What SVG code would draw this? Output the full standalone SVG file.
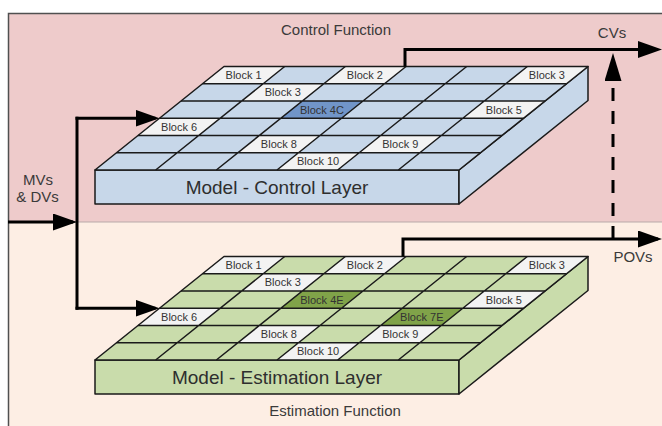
<svg xmlns="http://www.w3.org/2000/svg" width="662" height="426" viewBox="0 0 662 426">
<style>
.lbl{font-family:"Liberation Sans",Arial,sans-serif;font-size:15px;fill:#3a3a3a;text-anchor:middle}
.blk{font-family:"Liberation Sans",Arial,sans-serif;font-size:11px;fill:#333;text-anchor:middle}
.big{font-family:"Liberation Sans",Arial,sans-serif;font-size:19px;fill:#2e2e2e;text-anchor:middle}
.grid{stroke:#1a1a1a;stroke-width:1.5;fill:none}
.edge{stroke:#1a1a1a;stroke-width:1.5;stroke-linejoin:round}
.white{fill:#f3f3f3}
.blue{fill:#c7d7e9}
.blueD{fill:#7195c8}
.green{fill:#c9dcab}
.greenD{fill:#80a349}
.conn{stroke:#000;stroke-width:3;fill:none}
</style>
<defs>
<marker id="ah" markerUnits="userSpaceOnUse" markerWidth="24" markerHeight="17" refX="20" refY="8.5" orient="auto" viewBox="0 0 24 17">
<path d="M0,0 L24,8.5 L0,17 z" fill="#000"/>
</marker>
<marker id="ahUp" markerUnits="userSpaceOnUse" markerWidth="28" markerHeight="17" refX="24" refY="8.5" orient="auto" viewBox="0 0 28 17">
<path d="M0,0 L28,8.5 L0,17 z" fill="#000"/>
</marker>
</defs>

<g id="background">
<rect x="8" y="13" width="654" height="209" fill="#eecbcb"/>
<rect x="8" y="222" width="654" height="204" fill="#fdeee4"/>
<line x1="8" y1="222" x2="662" y2="222" stroke="#b9a9a9" stroke-width="1"/>
<path d="M8.5,426 V13.5 H662" fill="none" stroke="#505050" stroke-width="1.5"/>
<text class="lbl" x="336" y="35">Control Function</text>
<text class="lbl" x="335" y="416">Estimation Function</text>
</g>

<g id="control-layer">
<polygon class="blue edge" points="95,170 459,170 459,204 95,204"/>
<polygon class="blue edge" points="459,170 588,66.5 588,100.5 459,204"/>
<polygon class="blue" points="224,66.5 588,66.5 459,170 95,170"/>
<polygon class="white" points="224,66.5 284.67,66.5 263.17,83.75 202.5,83.75"/>
<polygon class="white" points="345.33,66.5 406,66.5 384.5,83.75 323.83,83.75"/>
<polygon class="white" points="527.33,66.5 588,66.5 566.5,83.75 505.83,83.75"/>
<polygon class="white" points="263.17,83.75 323.83,83.75 302.33,101 241.67,101"/>
<polygon class="blueD" points="302.33,101 363,101 341.5,118.25 280.83,118.25"/>
<polygon class="white" points="484.33,101 545,101 523.5,118.25 462.83,118.25"/>
<polygon class="white" points="159.5,118.25 220.17,118.25 198.67,135.5 138,135.5"/>
<polygon class="white" points="259.33,135.5 320,135.5 298.5,152.75 237.83,152.75"/>
<polygon class="white" points="380.67,135.5 441.33,135.5 419.83,152.75 359.17,152.75"/>
<polygon class="white" points="298.5,152.75 359.17,152.75 337.67,170 277,170"/>
<path class="grid" d="M202.5,83.75H566.5M181,101H545M159.5,118.25H523.5M138,135.5H502M116.5,152.75H480.5M284.67,66.5L155.67,170M345.33,66.5L216.33,170M406,66.5L277,170M466.67,66.5L337.67,170M527.33,66.5L398.33,170"/>
<polygon class="edge" fill="none" points="224,66.5 588,66.5 459,170 95,170"/>
<text class="blk" x="243.6" y="79">Block 1</text>
<text class="blk" x="364.9" y="79">Block 2</text>
<text class="blk" x="546.9" y="79">Block 3</text>
<text class="blk" x="282.8" y="96.3">Block 3</text>
<text class="blk" x="321.9" y="113.5">Block 4C</text>
<text class="blk" x="503.9" y="113.5">Block 5</text>
<text class="blk" x="179.1" y="130.8">Block 6</text>
<text class="blk" x="278.9" y="148">Block 8</text>
<text class="blk" x="400.3" y="148">Block 9</text>
<text class="blk" x="318.1" y="165.3">Block 10</text>
<text class="big" x="277" y="194">Model - Control Layer</text>
</g>

<g id="estimation-layer" transform="translate(0,190)">
<polygon class="green edge" points="95,170 459,170 459,204 95,204"/>
<polygon class="green edge" points="459,170 588,66.5 588,100.5 459,204"/>
<polygon class="green" points="224,66.5 588,66.5 459,170 95,170"/>
<polygon class="white" points="224,66.5 284.67,66.5 263.17,83.75 202.5,83.75"/>
<polygon class="white" points="345.33,66.5 406,66.5 384.5,83.75 323.83,83.75"/>
<polygon class="white" points="527.33,66.5 588,66.5 566.5,83.75 505.83,83.75"/>
<polygon class="white" points="263.17,83.75 323.83,83.75 302.33,101 241.67,101"/>
<polygon class="greenD" points="302.33,101 363,101 341.5,118.25 280.83,118.25"/>
<polygon class="white" points="484.33,101 545,101 523.5,118.25 462.83,118.25"/>
<polygon class="white" points="159.5,118.25 220.17,118.25 198.67,135.5 138,135.5"/>
<polygon class="greenD" points="402.17,118.25 462.83,118.25 441.33,135.5 380.67,135.5"/>
<polygon class="white" points="259.33,135.5 320,135.5 298.5,152.75 237.83,152.75"/>
<polygon class="white" points="380.67,135.5 441.33,135.5 419.83,152.75 359.17,152.75"/>
<polygon class="white" points="298.5,152.75 359.17,152.75 337.67,170 277,170"/>
<path class="grid" d="M202.5,83.75H566.5M181,101H545M159.5,118.25H523.5M138,135.5H502M116.5,152.75H480.5M284.67,66.5L155.67,170M345.33,66.5L216.33,170M406,66.5L277,170M466.67,66.5L337.67,170M527.33,66.5L398.33,170"/>
<polygon class="edge" fill="none" points="224,66.5 588,66.5 459,170 95,170"/>
<text class="blk" x="243.6" y="79">Block 1</text>
<text class="blk" x="364.9" y="79">Block 2</text>
<text class="blk" x="546.9" y="79">Block 3</text>
<text class="blk" x="282.8" y="96.3">Block 3</text>
<text class="blk" x="321.9" y="113.5">Block 4E</text>
<text class="blk" x="503.9" y="113.5">Block 5</text>
<text class="blk" x="179.1" y="130.8">Block 6</text>
<text class="blk" x="421.8" y="130.8">Block 7E</text>
<text class="blk" x="278.9" y="148">Block 8</text>
<text class="blk" x="400.3" y="148">Block 9</text>
<text class="blk" x="318.1" y="165.3">Block 10</text>
<text class="big" x="277" y="194">Model - Estimation Layer</text>
</g>

<g id="connectors">
<path class="conn" d="M8,222 H73" marker-end="url(#ah)"/>
<path class="conn" d="M77,116.75 V309.75"/>
<path class="conn" d="M75.5,118.25 H155.5" marker-end="url(#ah)"/>
<path class="conn" d="M75.5,308.25 H155.5" marker-end="url(#ah)"/>
<path class="conn" d="M405,66.5 V49.5 H658" marker-end="url(#ah)"/>
<path class="conn" d="M403,256.5 V239 H658" marker-end="url(#ah)"/>
<path class="conn" d="M613,239 V57" stroke-dasharray="13 10" marker-end="url(#ahUp)"/>
</g>

<g id="io-labels">
<text class="lbl" x="38" y="184.5">MVs</text>
<text class="lbl" x="37.5" y="202">&amp; DVs</text>
<text class="lbl" x="612" y="37.5">CVs</text>
<text class="lbl" x="633" y="262">POVs</text>
</g>
</svg>
